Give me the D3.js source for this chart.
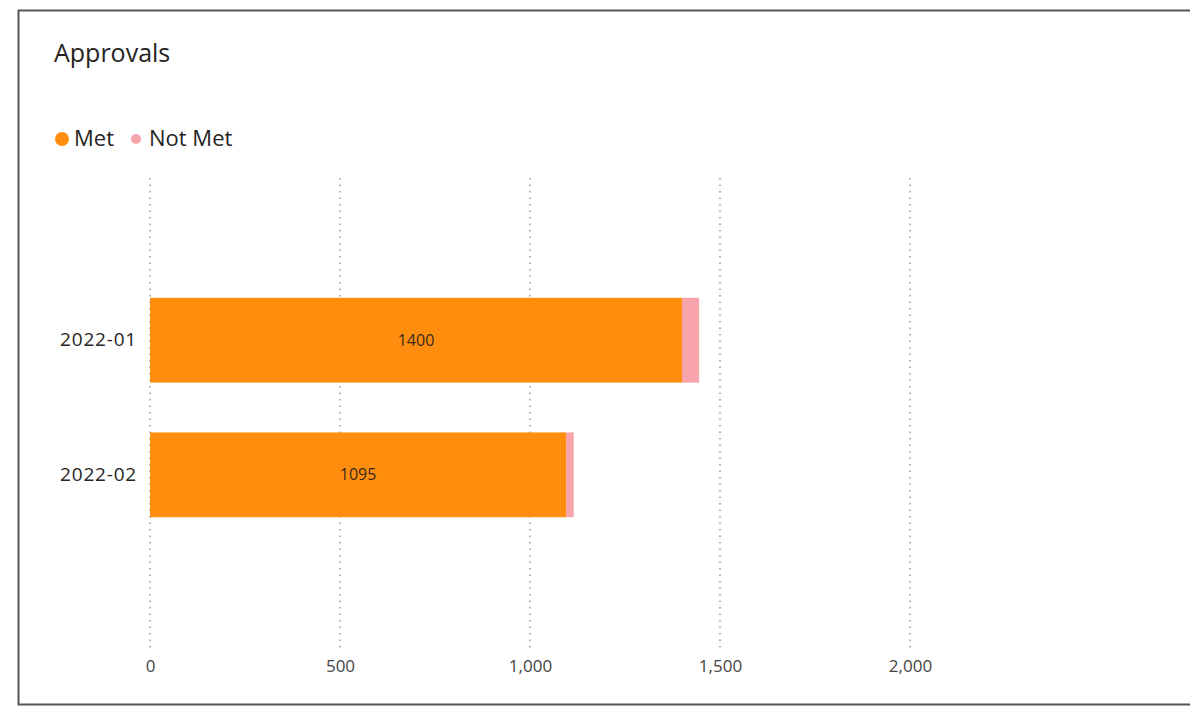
<!DOCTYPE html>
<html><head><meta charset="utf-8">
<script src="https://cdn.jsdelivr.net/npm/d3@7"></script>
<style>body{margin:0;background:#fff;} svg{display:block;}</style>
</head><body>
<script>
const categories = ["2022-01", "2022-02"];
const metValues = [1400, 1095];
const notMetValues = [45, 20];
const seriesNames = ["Met", "Not Met"];
const xTicks = [0, 500, 1000, 1500, 2000];

const W = 1190, H = 708;
const svg = d3.select("body").append("svg").attr("width", W).attr("height", H);
const font = "'Open Sans', 'Noto Sans', sans-serif";

svg.append("rect").attr("x", 18.5).attr("y", 10.5).attr("width", 1190).attr("height", 694)
  .attr("fill", "#fff").attr("stroke", "#555").attr("stroke-width", 2);

svg.append("text").attr("x", 54).attr("y", 62).text("Approvals")
  .attr("font-family", font).attr("font-size", 25).attr("fill", "#252423");

const colors = ["#FF8E0E", "#F9A3AB"];
// legend
const lg = svg.append("g").attr("font-family", font).attr("font-size", 22).attr("fill", "#252423");
lg.append("circle").attr("cx", 62).attr("cy", 139).attr("r", 7).attr("fill", colors[0]);
lg.append("text").attr("x", 74).attr("y", 146).text(seriesNames[0]);
lg.append("circle").attr("cx", 136).attr("cy", 139).attr("r", 5).attr("fill", colors[1]);
lg.append("text").attr("x", 149).attr("y", 146).text(seriesNames[1]);

const x = d3.scaleLinear().domain([0, 2000]).range([150, 910]);
const y = d3.scaleBand().domain(categories).range([230.5, 584.5]).paddingInner(0.37).paddingOuter(0.5);

// grid
const grid = svg.append("g");
grid.selectAll("line").data(xTicks).join("line")
  .attr("x1", d => x(d)).attr("x2", d => x(d)).attr("y1", 178).attr("y2", 650)
  .attr("stroke", "#8a8a8a").attr("stroke-width", 1.3).attr("stroke-dasharray", "1.5,5");

// axis labels
const xAxis = d3.axisBottom(x).tickValues(xTicks).tickSize(0).tickPadding(0).tickFormat(d3.format(","));
const ax = svg.append("g").attr("transform", "translate(0,660)").call(xAxis);
ax.select(".domain").remove();
ax.selectAll("text").attr("font-family", font).attr("font-size", 17).attr("fill", "#444");

const yAxis = d3.axisLeft(y).tickSize(0).tickPadding(13);
const ay = svg.append("g").attr("transform", "translate(150,0)").call(yAxis);
ay.select(".domain").remove();
ay.selectAll("text").attr("font-family", font).attr("font-size", 19).attr("letter-spacing", "0.8px").attr("fill", "#252423");

const data = categories.map((c, i) => ({c, met: metValues[i], not: notMetValues[i]}));
svg.selectAll(".met").data(data).join("rect").attr("class", "met")
  .attr("x", x(0)).attr("y", d => y(d.c)).attr("width", d => x(d.met) - x(0)).attr("height", y.bandwidth())
  .attr("fill", colors[0]);
svg.selectAll(".not").data(data).join("rect").attr("class", "not")
  .attr("x", d => x(d.met)).attr("y", d => y(d.c)).attr("width", d => x(d.met + d.not) - x(d.met)).attr("height", y.bandwidth())
  .attr("fill", colors[1]);
svg.selectAll(".lbl").data(data).join("text").attr("class", "lbl")
  .attr("x", d => (x(0) + x(d.met)) / 2).attr("y", d => y(d.c) + y.bandwidth() / 2)
  .attr("dy", "0.35em").attr("text-anchor", "middle")
  .attr("font-family", font).attr("font-size", 16).attr("fill", "#3a2a1a").text(d => d.met);
</script>
</body></html>
